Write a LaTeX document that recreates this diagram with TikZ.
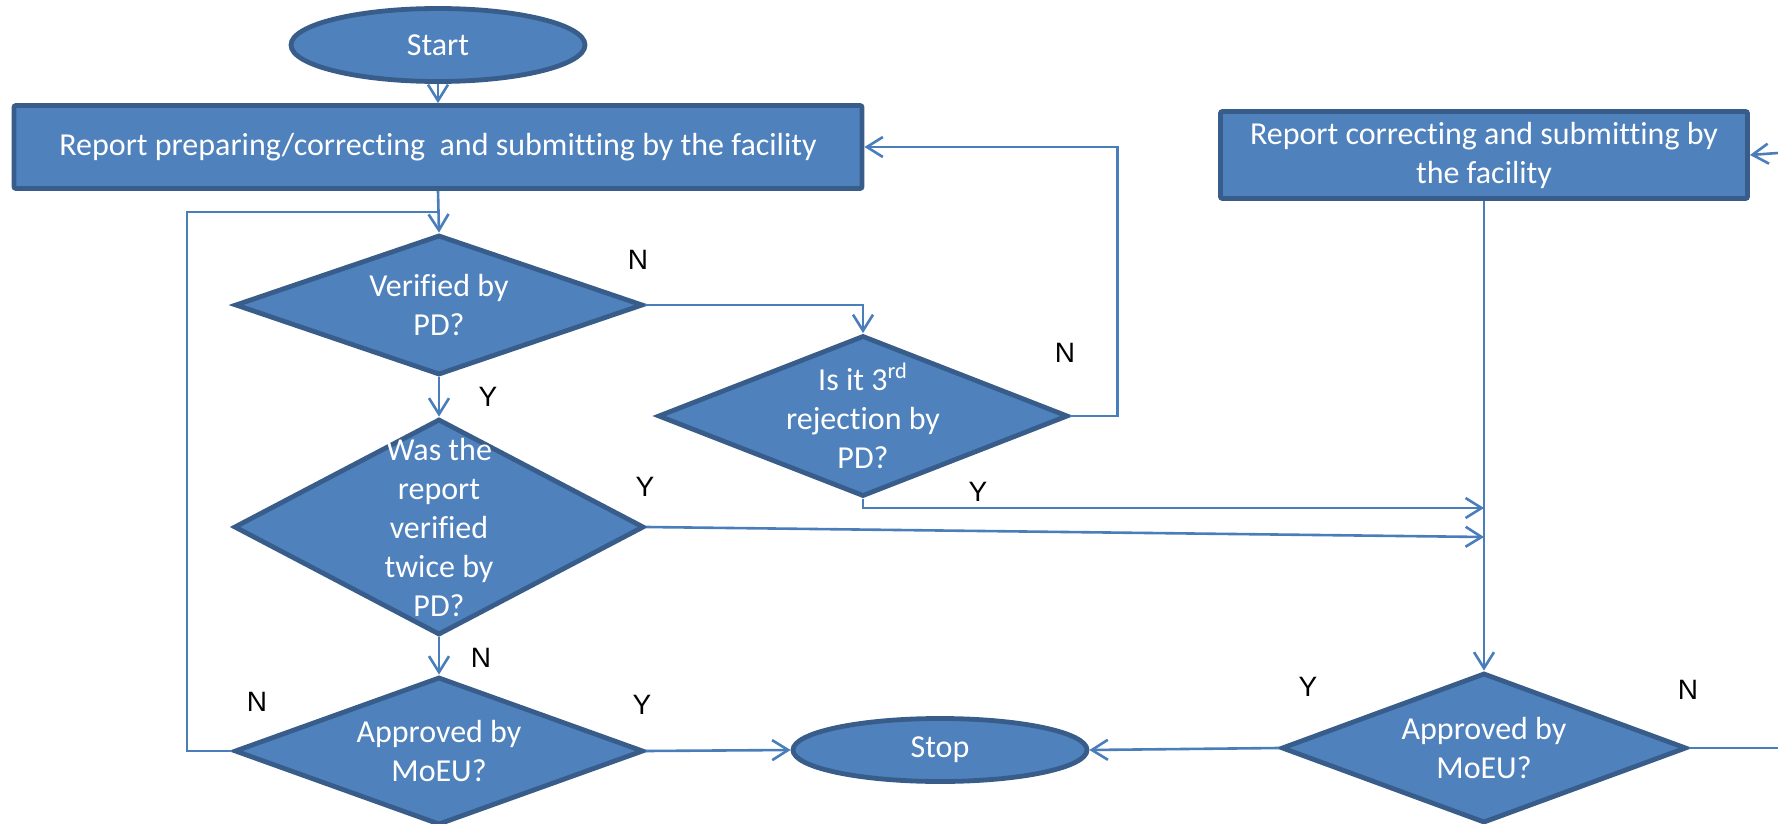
\documentclass[tikz,border=0pt]{standalone}
\usepackage{fontspec}
\setmainfont{Carlito}[Ligatures={NoCommon}]
\newfontfamily\ynfont{Liberation Sans}
\usetikzlibrary{shapes.geometric,arrows.meta,positioning}
\definecolor{boxfill}{HTML}{4F81BD}
\definecolor{boxline}{HTML}{385D8A}
\definecolor{flowline}{HTML}{4A7EBB}

\begin{document}
\begin{tikzpicture}[x=0.5pt,y=-0.5pt,
	base/.style={draw=boxline,fill=boxfill,line width=2.4pt,inner sep=0pt,text=white,font=\fontsize{16}{19.5}\selectfont,align=center},
	terminal/.style={base,ellipse},
	process/.style={base,rectangle,rounded corners=1pt},
	decision/.style={base,diamond},
	dtext/.style={text=white,font=\fontsize{16}{19.5}\selectfont,align=center,inner sep=0pt},
	yn/.style={font=\ynfont\fontsize{14}{16}\selectfont,inner sep=0pt},
	flow/.style={draw=flowline,line width=1.3pt,-{Straight Barb[length=8pt,width=10pt]}},
	link/.style={draw=flowline,line width=1.3pt}]
	\useasboundingbox (0,0) rectangle (1778,824);

	% terminals and boxes
	\node[terminal,minimum width=147pt,minimum height=36.5pt] (start) at (438,45) {Start};
	\node[process,minimum width=424pt,minimum height=41.5pt] (prep) at (438,147) {Report preparing/correcting \ and submitting by the facility};
	\node[process,minimum width=263.5pt,minimum height=43.5pt] (corr) at (1484,155) {Report correcting and submitting by\\the facility};
	\node[terminal,minimum width=147pt,minimum height=31.5pt] (stop) at (940,750) {Stop};

	% decisions
	\node[decision,minimum width=204pt,minimum height=70pt] (verif1) at (439,305) {};
	\node[dtext] (verif1t) at (verif1.center) {Verified by\\PD?};
	\node[decision,minimum width=205pt,minimum height=80.5pt] (third) at (863,416) {};
	\node[dtext] (thirdt) at (third.center) {Is it 3\textsuperscript{rd}\\rejection by\\PD?};
	\node[decision,minimum width=205pt,minimum height=108pt] (verif2) at (439,527) {};
	\node[dtext] (verif2t) at (verif2.center) {Was the\\report\\verified\\twice by\\PD?};
	\node[decision,minimum width=204.5pt,minimum height=74pt] (appr1) at (439,751) {};
	\node[dtext] (appr1t) at (appr1.center) {Approved by\\MoEU?};
	\node[decision,minimum width=202.5pt,minimum height=75pt] (appr2) at (1484,748) {};
	\node[dtext] (appr2t) at (appr2.center) {Approved by\\MoEU?};

	% free ends
	\coordinate (loop) at (187,212);
	\coordinate (join1) at (1484,508);
	\coordinate (join2) at (1484,537);
	\coordinate (right1) at (1778,748);
	\coordinate (right2) at (1778,153);

	% connectors
	\path[flow] (start.south) -- (start.south |- prep.north);
	\path[flow] (prep.south) -- (verif1.north);
	\path[link] (appr1.west) -| (loop) -- (loop -| verif1.north);
	\path[flow] (verif1.east) -| (third.north);
	\path[flow] (third.east) -- ++(47,0) |- (prep.east);
	\path[flow] (third.south) |- (join1);
	\path[flow] (verif2.east) -- (join2);
	\path[flow] (verif1.south) -- (verif2.north);
	\path[flow] (verif2.south) -- (appr1.north);
	\path[flow] (appr1.east) -- (stop.west);
	\path[flow] (corr.south) -- (appr2.north);
	\path[flow] (appr2.west) -- (stop.east);
	\path[link] (appr2.east) -- (right1);
	\path[flow] (right2) -- (corr.east);

	% Y/N labels
	\node[yn] (n1) at (638,260) {N};
	\node[yn] (y1) at (488,397) {Y};
	\node[yn] (n2) at (1065,353) {N};
	\node[yn] (y2) at (978,492) {Y};
	\node[yn] (y3) at (645,487) {Y};
	\node[yn] (n3) at (481,658) {N};
	\node[yn] (n4) at (257,702) {N};
	\node[yn] (y4) at (642,705) {Y};
	\node[yn] (y5) at (1308,687) {Y};
	\node[yn] (n5) at (1688,690) {N};
\end{tikzpicture}
\end{document}
